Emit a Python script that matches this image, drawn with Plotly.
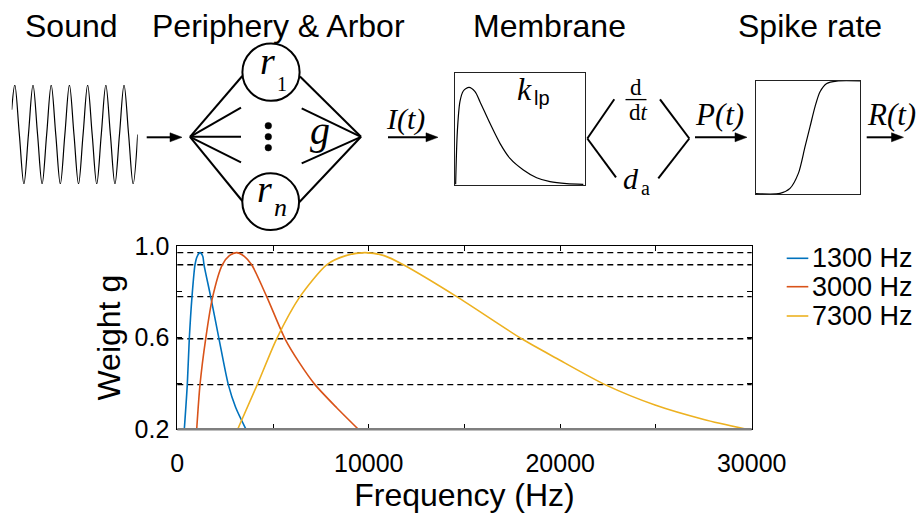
import plotly.graph_objects as go

W, H = 922, 519

# ---------------- data ----------------
freq_1300 = [366, 522, 627, 768, 924, 1040, 1186, 1330, 1395, 1743, 2178, 2664, 3050, 3588]
weight_1300 = [0.2, 0.395, 0.595, 0.779, 0.918, 0.955, 0.971, 0.955, 0.918, 0.779, 0.595, 0.395,
               0.295, 0.2]
freq_3000 = [1013, 1186, 1483, 1849, 2350, 2720, 3102, 3500, 3886, 4670, 5625, 6373, 7192,
             8325, 9455]
weight_3000 = [0.2, 0.395, 0.595, 0.779, 0.918, 0.958, 0.971, 0.955, 0.918, 0.779, 0.595, 0.491,
               0.395, 0.294, 0.2]
freq_7300 = [3154, 4178, 5190, 6408, 7801, 8800, 9800, 10800, 11806, 14593, 17987, 19800,
             22340, 24950, 27500, 29740]
weight_7300 = [0.2, 0.395, 0.595, 0.779, 0.918, 0.958, 0.971, 0.958, 0.918, 0.779, 0.595, 0.51,
               0.395, 0.306, 0.243, 0.2]
series_names = ["1300 Hz", "3000 Hz", "7300 Hz"]
series_colors = ["#0072BD", "#D95319", "#EDB120"]
dashed_levels = [0.971, 0.918, 0.779, 0.595, 0.395]
x_major_ticks = [0, 10000, 20000, 30000]
x_minor_ticks = [5000, 15000, 25000]
y_major_ticks = [0.2, 0.6, 1.0]
y_minor_ticks = [0.4, 0.8]

# schematic curves (illustrative)
sine_t = [0.0, 0.17, 0.42, 0.67, 0.92, 1.17, 1.42, 1.67, 1.92, 2.17, 2.42, 2.67, 2.92,
          3.17, 3.42, 3.67, 3.92, 4.17, 4.42, 4.67, 4.92, 5.17, 5.42, 5.67, 5.92,
          6.17, 6.42, 6.67, 6.92]
sine_amp = [0.5, 1, 0, -1, 0, 1, 0, -1, 0, 1, 0, -1, 0,
            1, 0, -1, 0, 1, 0, -1, 0, 1, 0, -1, 0,
            1, 0, -1, 0]
kernel_t = [0.005, 0.018, 0.038, 0.064, 0.108, 0.154, 0.192, 0.269, 0.346, 0.423,
            0.526, 0.628, 0.731, 0.859, 0.987]
kernel_v = [0.006, 0.475, 0.742, 0.837, 0.869, 0.831, 0.742, 0.549, 0.371, 0.237,
            0.134, 0.065, 0.030, 0.012, 0.006]
sigmoid_x = [0.0, 0.233, 0.329, 0.409, 0.473, 0.521, 0.569, 0.617, 0.681, 0.776, 1.0]
sigmoid_y = [0.004, 0.006, 0.05, 0.182, 0.418, 0.594, 0.771, 0.903, 0.976, 0.997, 0.998]

SANS = "Liberation Sans, Arial, sans-serif"
SERIF = "Liberation Serif, Times New Roman, serif"


def X(px):
    return px / W


def Y(py):
    return 1 - py / H


fig = go.Figure()

# main chart curves
for f, w, n, c in zip([freq_1300, freq_3000, freq_7300],
                      [weight_1300, weight_3000, weight_7300],
                      series_names, series_colors):
    fig.add_trace(go.Scatter(x=f, y=w, mode="lines", name=n,
                             line=dict(color=c, width=1.6, shape="spline", smoothing=0.7),
                             showlegend=False, xaxis="x", yaxis="y"))

# sine
fig.add_trace(go.Scatter(x=sine_t, y=sine_amp, mode="lines",
                         line=dict(color="black", width=1.2, shape="spline", smoothing=1.0),
                         showlegend=False, xaxis="x2", yaxis="y2", cliponaxis=False))
# membrane kernel
fig.add_trace(go.Scatter(x=kernel_t, y=kernel_v, mode="lines",
                         line=dict(color="black", width=1.2, shape="spline", smoothing=0.8),
                         showlegend=False, xaxis="x3", yaxis="y3"))
# sigmoid
fig.add_trace(go.Scatter(x=sigmoid_x, y=sigmoid_y, mode="lines",
                         line=dict(color="black", width=1.2, shape="spline", smoothing=0.8),
                         showlegend=False, xaxis="x4", yaxis="y4"))

hidden = dict(visible=False, fixedrange=True)
box_axis = dict(showline=True, mirror=True, linecolor="#222", linewidth=1.2,
                showticklabels=False, ticks="", showgrid=False, zeroline=False, fixedrange=True)

fig.update_layout(
    width=W, height=H,
    margin=dict(l=0, r=0, t=0, b=0, autoexpand=False),
    paper_bgcolor="white", plot_bgcolor="white",
    font=dict(family=SANS, color="black"),
    showlegend=False,
    xaxis=dict(domain=[X(177.3), X(751.7)], range=[0, 30000],
               tickvals=x_major_ticks, tickformat="d",
               ticks="inside", ticklen=5, tickcolor="black", tickwidth=1,
               minor=dict(tickvals=x_minor_ticks, ticks="inside", ticklen=5,
                          tickcolor="black", tickwidth=1, showgrid=False),
               showline=True, linecolor="black", linewidth=1, mirror="ticks",
               showgrid=False, zeroline=False,
               tickfont=dict(size=25, family=SANS, color="black"),
               ticklabelstandoff=12,
               title=dict(text="Frequency (Hz)", font=dict(size=32, family=SANS, color="black"),
                          standoff=3)),
    yaxis=dict(domain=[Y(429.3), Y(246)], range=[0.2, 1.0],
               tickvals=y_major_ticks, tickformat=".1f",
               ticks="inside", ticklen=5, tickcolor="black", tickwidth=1,
               minor=dict(tickvals=y_minor_ticks, ticks="inside", ticklen=5,
                          tickcolor="black", tickwidth=1, showgrid=False),
               showline=True, linecolor="black", linewidth=1, mirror="ticks",
               showgrid=False, zeroline=False,
               tickfont=dict(size=25, family=SANS, color="black"),
               ticklabelstandoff=2,
               title=dict(text="Weight g", font=dict(size=32, family=SANS, color="black"),
                          standoff=4)),
    xaxis2=dict(domain=[X(11.7), X(137.7)], range=[0, 6.92], anchor="y2", **hidden),
    yaxis2=dict(domain=[Y(184), Y(85)], range=[-1, 1], anchor="x2", **hidden),
    xaxis3=dict(domain=[X(455), X(585)], range=[0, 1], anchor="y3", **box_axis),
    yaxis3=dict(domain=[Y(185), Y(72.7)], range=[0, 1], anchor="x3", **box_axis),
    xaxis4=dict(domain=[X(755.7), X(860)], range=[0, 1], anchor="y4", **box_axis),
    yaxis4=dict(domain=[Y(194), Y(80.7)], range=[0, 1], anchor="x4", **box_axis),
)

shapes = []
# dashed horizontal levels
for lv in dashed_levels:
    shapes.append(dict(type="line", xref="x domain", yref="y", x0=0, x1=1, y0=lv, y1=lv,
                       line=dict(color="black", width=1.4, dash="6px,4px"), layer="below"))
# gray bottom axis
shapes.append(dict(type="line", xref="x domain", yref="y domain", x0=0, x1=1, y0=0, y1=0,
                   line=dict(color="#7f7f7f", width=2.5)))


def seg(x0, y0, x1, y1, w=2.0, color="black"):
    shapes.append(dict(type="line", xref="paper", yref="paper",
                       x0=X(x0), y0=Y(y0), x1=X(x1), y1=Y(y1),
                       line=dict(color=color, width=w)))


def circ(cx, cy, r, fill=None, w=2.0):
    d = dict(type="circle", xref="paper", yref="paper",
             x0=X(cx - r), x1=X(cx + r), y0=Y(cy + r), y1=Y(cy - r),
             line=dict(color="black", width=w))
    if fill:
        d["fillcolor"] = fill
    shapes.append(d)


def arrow(x0, x1, y):
    seg(x0, y, x1 - 8, y)
    path = (f"M {X(x1)} {Y(y)} L {X(x1 - 12)} {Y(y - 4.5)} "
            f"L {X(x1 - 12)} {Y(y + 4.5)} Z")
    shapes.append(dict(type="path", xref="paper", yref="paper", path=path,
                       fillcolor="black", line=dict(color="black", width=0.5)))


# periphery & arbor diagram
L = (190, 136.8)
R = (361, 136.8)
seg(*L, 242.3, 76.0)
seg(*L, 241, 107.7)
seg(*L, 241, 136.8)
seg(*L, 241, 162.3)
seg(*L, 242.3, 201.0)
seg(300, 76.5, *R)
seg(301.7, 108.3, *R)
seg(301.7, 163.3, *R)
seg(299, 202.5, *R)
circ(271, 72.2, 28.6)
circ(270.7, 201.7, 28.4)
for dy in (125.7, 136.7, 147.7):
    circ(268.3, dy, 3.3, fill="black", w=0.5)

# angle brackets
seg(614.3, 99.3, 587.3, 138.5)
seg(587.3, 138.5, 616, 177.3)
seg(660, 99.3, 689.3, 138.5)
seg(689.3, 138.5, 658.3, 178.3)
# fraction bar d/dt
seg(625.5, 99.6, 646.5, 99.6, w=1.3)

# arrows
arrow(146.7, 182, 137.3)
arrow(388, 438, 137.3)
arrow(695, 747, 137.3)
arrow(866.7, 903.5, 137.3)

ann = []


def txt(text, x, y, size, family=SANS, xanchor="center", yanchor="middle"):
    ann.append(dict(text=text, x=X(x), y=Y(y), xref="paper", yref="paper",
                    showarrow=False, xanchor=xanchor, yanchor=yanchor, borderpad=0,
                    font=dict(size=size, family=family, color="black")))


# section titles
txt("Sound", 71, 26, 32)
txt("Periphery & Arbor", 278, 26, 32)
txt("Membrane", 549, 26, 32)
txt("Spike rate", 810, 26, 32)

# math labels (base symbol and subscript side by side)
txt("<i>r</i>", 276, 61.5, 38, SERIF, xanchor="right")
txt("1", 276, 84, 20, SERIF, xanchor="left")
txt("<i>r</i>", 273, 189, 38, SERIF, xanchor="right")
txt("<i>n</i>", 272.5, 207, 26, SERIF, xanchor="left")
txt("<i>g</i>", 320, 130, 40, SERIF)
txt("<i>I(t)</i>", 405, 119, 30, SERIF)
txt("<i>P(t)</i>", 719, 114, 31, SERIF)
txt("<i>R(t)</i>", 891, 114, 31, SERIF)
txt("<i>k</i>", 533, 89, 32, SERIF, xanchor="right")
txt("lp", 533, 98, 20, SANS, xanchor="left")
txt("d", 636, 100.5, 23, SERIF, yanchor="bottom")
txt("d<i>t</i>", 638, 99.0, 23, SERIF, yanchor="top")
txt("<i>d</i>", 640, 178, 30, SERIF, xanchor="right")
txt("a", 640, 188, 20, SERIF, xanchor="left")

# legend
legend_rows = [258.3, 286.7, 316]
for name, color, ry in zip(series_names, series_colors, legend_rows):
    shapes.append(dict(type="line", xref="paper", yref="paper",
                       x0=X(786.7), x1=X(808.3), y0=Y(ry), y1=Y(ry),
                       line=dict(color=color, width=1.6)))
    txt(name, 810.5, ry, 27, SANS, xanchor="left")

fig.update_layout(shapes=shapes, annotations=ann)

fig.write_html("out.html", config={"displayModeBar": False},
               post_script="document.body.style.margin='0';document.body.style.overflow='hidden';")
